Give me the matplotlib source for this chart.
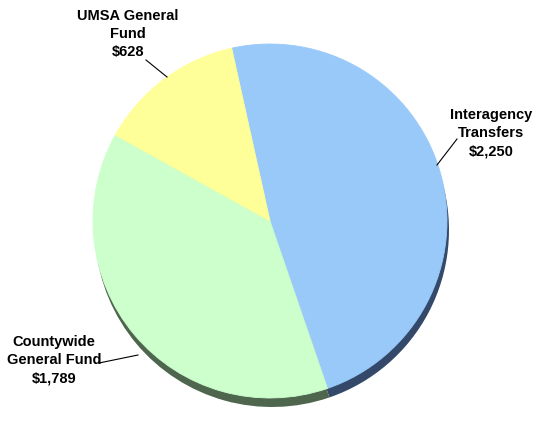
import matplotlib
matplotlib.use("Agg")
import matplotlib.pyplot as plt

labels = ["Interagency\nTransfers\n$2,250", "Countywide\nGeneral Fund\n$1,789", "UMSA General\nFund\n$628"]
values = [2250, 1789, 628]
colors = ["#99C9F9", "#CCFFCC", "#FFFF99"]
shadow_colors = ["#34496a", "#4e654e", "#6a6a40"]

W, H = 539, 423
fig = plt.figure(figsize=(W / 100, H / 100), dpi=100)
ax = fig.add_axes([0, 0, 1, 1])
cx, cy, r = 270, H - 221, 177

ax.pie(values, colors=shadow_colors, startangle=102.5, counterclock=False,
       center=(cx + 2, cy - 9), radius=r, frame=True,
       wedgeprops=dict(linewidth=0))
wedges, _ = ax.pie(values, colors=colors, startangle=102.5, counterclock=False,
                   center=(cx, cy), radius=r, frame=True,
                   wedgeprops=dict(linewidth=0.6))
for w, c in zip(wedges, colors):
    w.set_edgecolor(c)

ax.set_xlim(0, W)
ax.set_ylim(0, H)
ax.set_aspect("equal")
ax.axis("off")

label_pos = [(491, 133), (54, 360), (128, 34)]
leaders = [((457, 139), (437, 165)), ((99, 363), (138, 355)), ((146, 60), (167, 77))]
for lab, (x, y), ((x1, y1), (x2, y2)) in zip(labels, label_pos, leaders):
    ax.text(x, H - y, lab, ha="center", va="center", fontsize=10.5, fontweight="bold",
            family=["Liberation Sans", "DejaVu Sans"], linespacing=1.4, color="black")
    ax.plot([x1, x2], [H - y1, H - y2], color="black", lw=0.8)

fig.savefig("out.png", dpi=100)
